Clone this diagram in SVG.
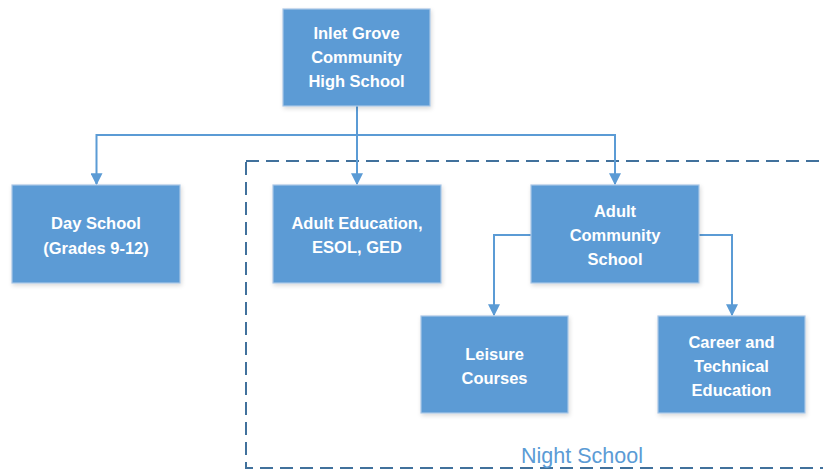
<svg xmlns="http://www.w3.org/2000/svg" width="823" height="470" viewBox="0 0 823 470">
<defs>
<style>
.box{fill:#5b9bd5;stroke:#a9c6e6;stroke-width:1.2;filter:url(#sh)}
.lbl{fill:#ffffff;font-family:"Liberation Sans",Arial,sans-serif;font-weight:bold;font-size:16.5px;text-anchor:middle}
.con{fill:none;stroke:#5b9bd5;stroke-width:2;marker-end:url(#arr)}
</style>
<filter id="sh" x="-10%" y="-10%" width="130%" height="130%">
<feDropShadow dx="1" dy="2" stdDeviation="2" flood-color="#000" flood-opacity="0.15"/>
</filter>
<marker id="arr" viewBox="0 0 10 10" refX="9" refY="5" markerWidth="6" markerHeight="6" markerUnits="strokeWidth" orient="auto">
<path d="M0,0 L10,5 L0,10 z" fill="#5b9bd5"/>
</marker>
</defs>
<rect width="823" height="470" fill="#ffffff"/>
<g id="night-school">
<rect x="246" y="161" width="600" height="307" fill="none" stroke="#41719c" stroke-width="2" stroke-dasharray="13,7"/>
<text x="582" y="463" font-family="Liberation Sans,Arial,sans-serif" font-size="21.5" fill="#5b9bd5" text-anchor="middle">Night School</text>
</g>
<g id="connectors">
<path class="con" d="M357,106 V184"/>
<path class="con" d="M357,135 H96.5 V184"/>
<path class="con" d="M357,135 H615 V184"/>
<path class="con" d="M531,235 H494 V315"/>
<path class="con" d="M699,235 H732 V315"/>
</g>
<g id="inlet-grove">
<rect class="box" x="283" y="9" width="147" height="97"/>
<text class="lbl" x="356.5" y="38.5">Inlet Grove</text>
<text class="lbl" x="356.5" y="62.5">Community</text>
<text class="lbl" x="356.5" y="86.5">High School</text>
</g>
<g id="day-school">
<rect class="box" x="12" y="185" width="168" height="98"/>
<text class="lbl" x="96" y="228.5">Day School</text>
<text class="lbl" x="96" y="253.5">(Grades 9-12)</text>
</g>
<g id="adult-education">
<rect class="box" x="273" y="185" width="168" height="98"/>
<text class="lbl" x="357" y="228.5">Adult Education,</text>
<text class="lbl" x="357" y="252.5">ESOL, GED</text>
</g>
<g id="adult-community-school">
<rect class="box" x="531" y="185" width="168" height="98"/>
<text class="lbl" x="615" y="216.5">Adult</text>
<text class="lbl" x="615" y="240.5">Community</text>
<text class="lbl" x="615" y="264.5">School</text>
</g>
<g id="leisure-courses">
<rect class="box" x="421" y="316" width="147" height="97"/>
<text class="lbl" x="494.5" y="359.5">Leisure</text>
<text class="lbl" x="494.5" y="383.5">Courses</text>
</g>
<g id="career-technical">
<rect class="box" x="658" y="316" width="147" height="97"/>
<text class="lbl" x="731.5" y="347.5">Career and</text>
<text class="lbl" x="731.5" y="371.5">Technical</text>
<text class="lbl" x="731.5" y="395.5">Education</text>
</g>
</svg>
